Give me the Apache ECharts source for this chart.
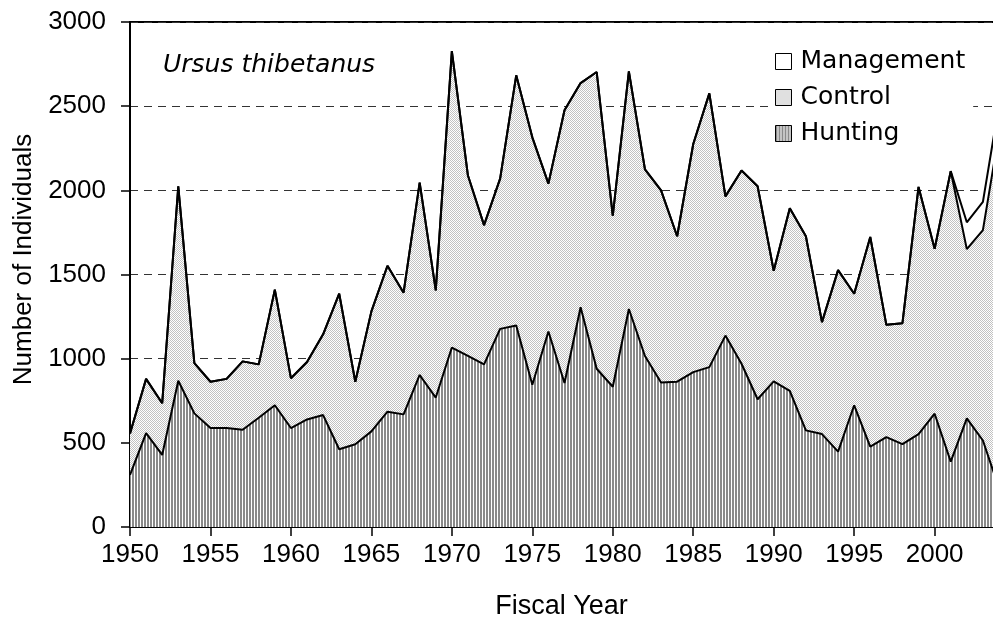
<!DOCTYPE html>
<html>
<head>
<meta charset="utf-8">
<title>Ursus thibetanus</title>
<script src="https://cdn.jsdelivr.net/npm/echarts@6/dist/echarts.min.js"></script>
<style>
  html, body { margin: 0; padding: 0; background: #fff; }
  #chart { width: 993px; height: 618px; }
</style>
</head>
<body>
<div id="chart"></div>
<script>
// fiscal years 1950-2004
const years = []
for (let y = 1950; y <= 2004; y++) years.push(String(y))

// hunting (bottom layer)
const hunting = [
  310, 558, 428, 869, 675, 588, 588, 578, 649, 723,
  588, 639, 665, 462, 492, 568, 685, 669, 903, 769,
  1066, 1016, 966, 1177, 1197, 845, 1161, 855, 1305, 940,
  833, 1295, 1016, 859, 863, 920, 950, 1137, 970, 759,
  865, 809, 574, 552, 448, 723, 478, 534, 492, 552,
  673, 388, 645, 514, 230
]
// control (stacked on hunting)
const control = [
  245, 322, 307, 1155, 299, 275, 292, 406, 317, 687,
  296, 341, 480, 924, 371, 713, 867, 723, 1143, 637,
  1761, 1072, 827, 893, 1486, 1470, 879, 1621, 1332, 1763,
  1016, 1412, 1108, 1141, 864, 1355, 1626, 827, 1148, 1265,
  657, 1085, 1153, 665, 1078, 663, 1245, 667, 719, 1468,
  980, 1726, 1006, 1250, 2110
]
// management (only in the last years)
const management = [
  0, 0, 0, 0, 0, 0, 0, 0, 0, 0,
  0, 0, 0, 0, 0, 0, 0, 0, 0, 0,
  0, 0, 0, 0, 0, 0, 0, 0, 0, 0,
  0, 0, 0, 0, 0, 0, 0, 0, 0, 0,
  0, 0, 0, 0, 0, 0, 0, 0, 0, 0,
  0, 0, 159, 167, 170
]

// small canvas patterns for the fills
function stripePattern(){
  const c = document.createElement('canvas')
  c.width = 3; c.height = 4
  const ctx = c.getContext('2d')
  ctx.fillStyle = '#ffffff'
  ctx.fillRect(0, 0, 3, 4)
  ctx.fillStyle = '#8a8a8a'
  ctx.fillRect(0, 0, 2, 4)
  return { image: c, repeat: 'repeat' }
}
function dotPattern(){
  const c = document.createElement('canvas')
  c.width = 2; c.height = 2
  const ctx = c.getContext('2d')
  ctx.fillStyle = '#ffffff'
  ctx.fillRect(0, 0, 2, 2)
  ctx.fillStyle = '#c2c2c2'
  ctx.fillRect(0, 0, 1, 1)
  ctx.fillRect(1, 1, 1, 1)
  return { image: c, repeat: 'repeat' }
}

const huntFill = stripePattern()
const ctrlFill = dotPattern()
const mgmtFill = '#ffffff'

const fontArial = 'Liberation Sans, Arial, sans-serif'
const fontWide = 'DejaVu Sans, sans-serif'

function areaSeries(name, data, fill){
  return {
    name: name,
    type: 'line',
    stack: 'total',
    data: data,
    symbol: 'none',
    silent: true,
    lineStyle: { color: '#000', width: 2 },
    itemStyle: { color: fill, borderColor: '#000', borderWidth: 1 },
    areaStyle: { color: fill, opacity: 1 }
  }
}

const myChart = echarts.init(document.getElementById('chart'), null, { renderer: 'canvas' })

const option = {
  animation: false,
  backgroundColor: '#fff',
  title: {
    text: 'Ursus thibetanus',
    left: 158,
    top: 48,
    textStyle: {
      fontFamily: fontWide,
      fontStyle: 'italic',
      fontWeight: 'normal',
      fontSize: 25,
      color: '#000'
    }
  },
  legend: {
    orient: 'vertical',
    left: 769,
    top: 43,
    icon: 'rect',
    itemWidth: 16,
    itemHeight: 16,
    itemGap: 7,
    padding: [4, 8, 4, 6],
    backgroundColor: '#fff',
    z: 10,
    textStyle: { fontFamily: fontWide, fontSize: 25, color: '#000', lineHeight: 29, padding: [0, 0, 0, 4] },
    data: [
      { name: 'Management', itemStyle: { color: mgmtFill, borderColor: '#000', borderWidth: 1 } },
      { name: 'Control', itemStyle: { color: ctrlFill, borderColor: '#000', borderWidth: 1 } },
      { name: 'Hunting', itemStyle: { color: huntFill, borderColor: '#000', borderWidth: 1 } }
    ]
  },
  grid: {
    left: 130,
    right: -6,
    top: 22,
    bottom: 91,
    outerBoundsMode: 'none',
    containLabel: false,
    show: true,
    borderColor: '#000',
    borderWidth: 2,
    backgroundColor: 'transparent'
  },
  xAxis: {
    type: 'category',
    data: years,
    boundaryGap: false,
    name: 'Fiscal Year',
    nameLocation: 'middle',
    nameGap: 66,
    nameTextStyle: { fontFamily: fontArial, fontSize: 27, color: '#000', padding: [0, 6, 0, 0] },
    axisLine: { lineStyle: { color: '#000', width: 2 } },
    axisTick: { interval: 4, length: 9, lineStyle: { color: '#000', width: 1.5 } },
    axisLabel: { interval: 4, margin: 15, fontFamily: fontArial, fontSize: 26, color: '#000' },
    splitLine: { show: false }
  },
  yAxis: {
    type: 'value',
    min: 0,
    max: 3000,
    interval: 500,
    name: 'Number of Individuals',
    nameLocation: 'middle',
    nameGap: 92,
    // shifted up a little, like the original
    nameTextStyle: { fontFamily: fontArial, fontSize: 26, color: '#000', padding: [0, 0, 0, 30] },
    axisLine: { show: true, lineStyle: { color: '#000', width: 2 } },
    axisTick: { show: true, length: 9, lineStyle: { color: '#000', width: 1.5 } },
    axisLabel: {
      margin: 24,
      fontFamily: fontArial,
      fontSize: 26,
      color: '#000',
      formatter: v => String(v)
    },
    splitLine: { show: true, lineStyle: { color: '#333', width: 1, type: [8, 6] } }
  },
  series: [
    areaSeries('Hunting', hunting, huntFill),
    areaSeries('Control', control, ctrlFill),
    areaSeries('Management', management, mgmtFill)
  ]
}

myChart.setOption(option)
</script>
</body>
</html>
